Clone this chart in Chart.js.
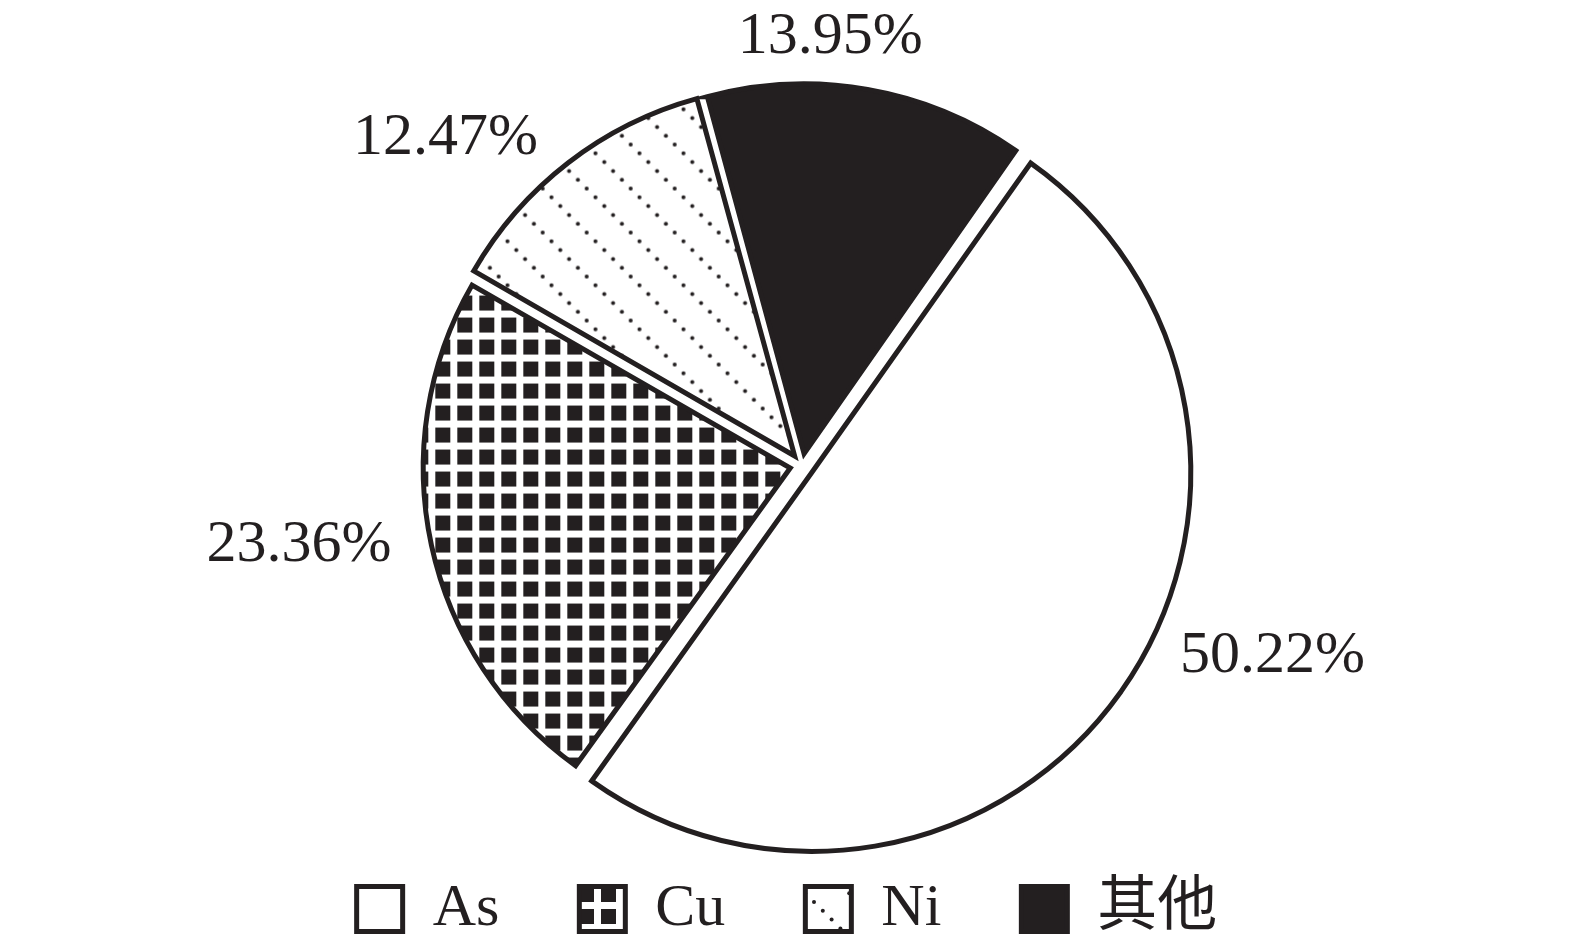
<!DOCTYPE html>
<html>
<head>
<meta charset="utf-8">
<script src="https://cdn.jsdelivr.net/npm/chart.js@4.4.1/dist/chart.umd.min.js"></script>
<style>
  html, body { margin: 0; padding: 0; background: #fff; }
  canvas { display: block; }
</style>
</head>
<body>
<canvas id="pie" width="1575" height="949"></canvas>
<script>
// data
const elements = ['As', 'Cu', 'Ni', '其他'];
const shares = [50.22, 23.36, 12.47, 13.95];
const shareLabels = ['50.22%', '23.36%', '12.47%', '13.95%'];

const ink = '#231f20';
const serif = '"Liberation Serif", "Times New Roman", "Noto Sans CJK SC", serif';

// Cu: black squares on a white grid
const gridPattern = (() => {
  const c = document.createElement('canvas');
  c.width = 22; c.height = 22;
  const g = c.getContext('2d');
  g.fillStyle = '#fff';
  g.fillRect(0, 0, 22, 22);
  g.fillStyle = ink;
  g.fillRect(7, 7, 15, 15);
  return g.createPattern(c, 'repeat');
})();

// Ni: dots along diagonal lines
const dotPattern = (() => {
  const c = document.createElement('canvas');
  c.width = 44; c.height = 44;
  const g = c.getContext('2d');
  g.fillStyle = '#fff';
  g.fillRect(0, 0, 44, 44);
  g.fillStyle = ink;
  for (let k = 0; k < 5; k++) {
    g.beginPath();
    g.arc(k * 8.8 + 4.4, k * 8.8 + 4.4, 2, 0, Math.PI * 2);
    g.fill();
  }
  return g.createPattern(c, 'repeat');
})();

const fills = ['#fff', gridPattern, dotPattern, ink];

// percentage labels outside each slice
const sliceLabels = {
  id: 'sliceLabels',
  afterDatasetsDraw(chart, args, opts) {
    const ctx = chart.ctx;
    const meta = chart.getDatasetMeta(0);
    ctx.save();
    ctx.font = '60px ' + serif;
    ctx.fillStyle = ink;
    ctx.textBaseline = 'middle';
    meta.data.forEach((arc, i) => {
      const mid = (arc.startAngle + arc.endAngle) / 2;
      const r = arc.outerRadius + opts.gap;
      const cos = Math.cos(mid);
      let x = arc.x + cos * r;
      let y = arc.y + Math.sin(mid) * r;
      ctx.textAlign = Math.abs(cos) < 0.3 ? 'center' : (cos > 0 ? 'left' : 'right');
      x += opts.nudge[i][0];
      y += opts.nudge[i][1];
      ctx.fillText(shareLabels[i], x, y);
    });
    ctx.restore();
  }
};

// the legend in the figure sits a little left of the pie's centre
const legendShift = {
  id: 'legendShift',
  afterLayout(chart, args, opts) {
    chart.legend.left += opts.dx;
    chart.legend.right += opts.dx;
  }
};

new Chart(document.getElementById('pie').getContext('2d'), {
  type: 'pie',
  data: {
    labels: elements,
    datasets: [{
      data: shares,
      backgroundColor: fills,
      borderColor: ink,
      borderWidth: 5,
      borderJoinStyle: 'miter',
      offset: 48
    }]
  },
  options: {
    responsive: false,
    animation: false,
    devicePixelRatio: 1,
    rotation: 35,
    radius: 367,
    layout: { padding: { top: 132, left: 29, right: 0, bottom: 0 } },
    plugins: {
      tooltip: { enabled: false },
      legend: {
        position: 'bottom',
        maxHeight: 155,
        labels: {
          boxWidth: 46,
          boxHeight: 45,
          padding: 80,
          color: ink,
          font: { size: 60, family: serif },
          generateLabels: () => elements.map((name, i) => ({
            text: name,
            fillStyle: fills[i],
            strokeStyle: ink,
            lineWidth: 5,
            fontColor: ink,
            hidden: false,
            index: i,
            datasetIndex: 0
          }))
        }
      },
      legendShift: { dx: -15 },
      sliceLabels: {
        gap: 60,
        nudge: [[30, -57], [7, -10], [-3, 11], [-45, -8]]
      }
    }
  },
  plugins: [sliceLabels, legendShift]
});
</script>
</body>
</html>
